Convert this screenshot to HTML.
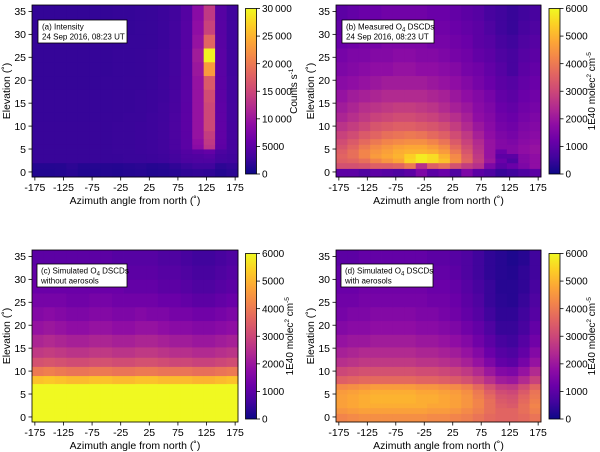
<!DOCTYPE html>
<html><head><meta charset="utf-8"><style>
html,body{margin:0;padding:0;background:#fff;}
svg{display:block;font-family:"Liberation Sans","DejaVu Sans",sans-serif;}
</style></head><body>
<svg id="fig" width="600" height="452" viewBox="0 0 600 452" xmlns="http://www.w3.org/2000/svg">
<defs>
<linearGradient id="plasma" x1="0" y1="1" x2="0" y2="0">
<stop offset="0" stop-color="#0d0887"/><stop offset="0.1" stop-color="#41049d"/><stop offset="0.2" stop-color="#6a00a8"/><stop offset="0.3" stop-color="#8f0da4"/><stop offset="0.4" stop-color="#b12a90"/><stop offset="0.5" stop-color="#cc4778"/><stop offset="0.6" stop-color="#e16462"/><stop offset="0.7" stop-color="#f2844b"/><stop offset="0.8" stop-color="#fca636"/><stop offset="0.9" stop-color="#fcce25"/><stop offset="1" stop-color="#f0f921"/>
</linearGradient>
</defs>
</svg>
<script>
// shared axes data
const azCenters = [-170,-150,-130,-110,-90,-70,-50,-30,-10,10,30,50,70,90,110,130,150,170];
const elCenters = [0,1.5,2.5,3.5,4.5,5.5,6.5,8,10,12,14,16.5,19.5,22.5,25.5,28.5,31.5,34.7];
const xTicks = [-175,-125,-75,-25,25,75,125,175];
const yTicks = [0,5,10,15,20,25,30,35];
const cbTicksA = [0,5000,10000,15000,20000,25000,30000];
const cbTicksO4 = [0,1000,2000,3000,4000,5000,6000];

// panel (a) intensity, thousands of counts/s; rows = elevations bottom->top
const valuesA = [
[1.2,1.2,1.3,1.6,1.2,1.2,1.3,1.2,1.4,1.5,1.2,1.3,1.6,2.0,2.2,2.0,1.4,1.8],
[1.3,1.3,1.4,1.8,1.3,1.4,1.4,1.3,1.5,1.7,1.4,1.5,2.0,2.6,3.0,3.0,1.8,2.2],
[2.5,2.5,2.5,2.5,2.5,2.5,2.5,2.5,2.6,2.6,2.7,2.8,3.2,3.8,4.0,4.0,3.2,3.0],
[2.5,2.5,2.5,2.5,2.5,2.5,2.5,2.5,2.6,2.6,2.7,2.9,3.3,4.0,4.2,4.5,3.4,3.0],
[2.5,2.5,2.5,2.5,2.5,2.5,2.5,2.6,2.6,2.7,2.8,3.0,3.5,4.3,5.0,5.5,3.8,3.2],
[2.5,2.5,2.5,2.5,2.5,2.5,2.5,2.6,2.6,2.7,2.8,3.1,3.7,4.8,8.5,13.0,5.0,3.4],
[2.5,2.5,2.5,2.5,2.5,2.5,2.5,2.6,2.6,2.7,2.8,3.1,3.7,4.8,9.0,13.5,5.2,3.4],
[2.5,2.5,2.5,2.5,2.5,2.5,2.5,2.6,2.6,2.7,2.8,3.1,3.8,4.9,9.5,14.0,5.3,3.4],
[2.5,2.5,2.5,2.5,2.5,2.5,2.5,2.6,2.6,2.7,2.8,3.1,3.8,5.0,9.5,15.0,5.3,3.4],
[2.4,2.4,2.4,2.4,2.4,2.4,2.5,2.5,2.6,2.6,2.8,3.0,3.7,5.0,9.5,15.0,5.2,3.3],
[2.4,2.4,2.4,2.4,2.4,2.4,2.4,2.5,2.5,2.6,2.7,3.0,3.6,4.9,9.5,15.0,5.1,3.3],
[2.4,2.4,2.4,2.4,2.4,2.4,2.4,2.5,2.5,2.6,2.7,2.9,3.5,4.8,9.5,15.5,5.0,3.2],
[2.3,2.3,2.3,2.3,2.3,2.3,2.4,2.4,2.5,2.5,2.6,2.9,3.4,4.7,9.5,17.0,4.9,3.2],
[2.3,2.3,2.3,2.3,2.3,2.3,2.3,2.4,2.4,2.5,2.6,2.8,3.3,4.6,10.0,23.0,4.8,3.1],
[2.3,2.3,2.3,2.3,2.3,2.3,2.3,2.4,2.4,2.5,2.6,2.8,3.3,4.6,10.5,29.5,4.8,3.1],
[2.3,2.3,2.3,2.3,2.3,2.3,2.3,2.3,2.4,2.4,2.5,2.7,3.2,4.5,9.5,18.0,4.7,3.0],
[2.2,2.2,2.2,2.2,2.2,2.2,2.3,2.3,2.3,2.4,2.5,2.7,3.2,4.5,9.0,14.5,4.6,3.0],
[2.2,2.2,2.2,2.2,2.2,2.2,2.2,2.3,2.3,2.4,2.5,2.7,3.1,4.4,8.5,13.5,4.5,3.0]
];
// panel (b) measured O4 DSCDs, thousands
const valuesB = [
[1.0,1.0,0.8,1.0,0.9,0.8,1.0,1.5,1.0,1.2,0.8,1.5,1.0,0.8,0.5,0.6,0.8,1.0],
[3.2,3.2,3.3,3.5,3.5,3.6,4.0,2.5,3.5,3.8,3.2,2.8,2.5,1.5,1.0,1.2,1.5,1.8],
[3.5,3.6,3.8,4.2,4.5,4.8,5.5,5.8,5.6,5.2,4.4,3.6,2.8,2.0,1.2,0.8,1.6,1.8],
[3.6,3.8,4.2,4.6,4.8,5.0,5.4,5.8,5.6,5.0,4.3,3.5,2.7,1.9,1.0,1.0,1.6,1.8],
[3.5,3.8,4.2,4.5,4.7,4.9,5.0,5.0,4.9,4.6,4.0,3.3,2.6,1.9,1.2,1.6,1.8,1.9],
[3.3,3.6,4.0,4.3,4.5,4.7,4.8,4.8,4.6,4.3,3.7,3.1,2.5,1.9,1.6,1.6,1.8,1.9],
[3.1,3.4,3.7,4.0,4.2,4.3,4.4,4.4,4.2,3.9,3.4,2.9,2.4,1.9,1.6,1.5,1.7,1.8],
[2.9,3.1,3.4,3.6,3.8,3.9,4.0,3.9,3.7,3.5,3.1,2.7,2.2,1.8,1.5,1.4,1.6,1.7],
[2.6,2.8,3.0,3.3,3.4,3.5,3.5,3.4,3.3,3.1,2.8,2.4,2.0,1.7,1.4,1.3,1.5,1.6],
[2.3,2.5,2.7,2.9,3.0,3.1,3.1,3.0,2.9,2.7,2.5,2.2,1.8,1.6,1.3,1.2,1.4,1.5],
[2.1,2.3,2.5,2.6,2.7,2.8,2.8,2.7,2.6,2.4,2.2,2.0,1.7,1.5,1.2,1.1,1.3,1.4],
[1.9,2.1,2.2,2.3,2.4,2.4,2.4,2.4,2.3,2.2,2.0,1.8,1.6,1.4,1.1,1.0,1.2,1.3],
[1.7,1.8,1.9,2.0,2.1,2.1,2.1,2.1,2.0,1.9,1.8,1.6,1.4,1.2,1.0,0.9,1.1,1.2],
[1.5,1.6,1.7,1.8,1.8,1.9,1.9,1.8,1.8,1.7,1.6,1.4,1.3,1.1,0.9,0.7,1.0,1.1],
[1.4,1.5,1.5,1.6,1.6,1.7,1.7,1.6,1.6,1.5,1.4,1.3,1.1,1.0,0.8,0.7,0.9,1.0],
[1.2,1.3,1.4,1.4,1.5,1.5,1.5,1.5,1.4,1.4,1.3,1.2,1.0,0.9,0.7,0.6,0.8,0.9],
[1.1,1.2,1.3,1.3,1.4,1.4,1.4,1.4,1.3,1.3,1.2,1.1,1.0,0.8,0.6,0.5,0.7,0.8],
[1.0,1.1,1.2,1.2,1.3,1.3,1.3,1.3,1.2,1.2,1.1,1.0,0.9,0.7,0.6,0.5,0.6,0.7]
];
// panel (c) simulated, no aerosols, thousands
const valuesC = [
[6.0,6.0,6.0,6.0,6.0,6.0,6.0,6.0,6.0,6.0,6.0,6.0,6.0,6.0,6.0,6.0,6.0,6.0],
[6.0,6.0,6.0,6.0,6.0,6.0,6.0,6.0,6.0,6.0,6.0,6.0,6.0,6.0,6.0,6.0,6.0,6.0],
[6.0,6.0,6.0,6.0,6.0,6.0,6.0,6.0,6.0,6.0,6.0,6.0,6.0,6.0,6.0,6.0,6.0,6.0],
[6.0,6.0,6.0,6.0,6.0,6.0,6.0,6.0,6.0,6.0,6.0,6.0,6.0,6.0,6.0,6.0,6.0,6.0],
[6.0,6.0,6.0,6.0,6.0,6.0,6.0,6.0,6.0,6.0,6.0,6.0,6.0,6.0,6.0,6.0,6.0,6.0],
[6.0,6.0,6.0,6.0,6.0,6.0,6.0,6.0,6.0,6.0,6.0,6.0,6.0,6.0,6.0,6.0,6.0,6.0],
[6.0,6.0,6.0,6.0,6.0,6.0,6.0,6.0,6.0,6.0,6.0,6.0,6.0,6.0,6.0,6.0,6.0,6.0],
[5.2,5.3,5.2,5.1,5.1,5.2,5.2,5.1,5.1,5.2,5.2,5.1,5.1,5.1,5.0,5.0,5.1,5.2],
[4.0,4.1,4.0,3.9,3.9,4.0,4.0,3.9,3.9,4.0,4.0,3.9,3.9,3.9,3.8,3.8,3.9,4.0],
[3.2,3.3,3.2,3.1,3.1,3.2,3.2,3.1,3.1,3.2,3.2,3.1,3.0,3.0,2.9,2.9,3.0,3.1],
[2.7,2.8,2.7,2.6,2.6,2.7,2.7,2.6,2.6,2.7,2.7,2.6,2.5,2.5,2.4,2.4,2.5,2.6],
[2.3,2.4,2.3,2.2,2.2,2.3,2.3,2.2,2.2,2.3,2.3,2.2,2.1,2.1,2.0,2.0,2.1,2.2],
[1.9,2.0,1.9,1.8,1.8,1.9,1.9,1.8,1.8,1.9,1.9,1.8,1.7,1.7,1.6,1.6,1.7,1.8],
[1.6,1.7,1.6,1.5,1.5,1.6,1.6,1.5,1.5,1.6,1.5,1.5,1.4,1.4,1.3,1.3,1.4,1.5],
[1.4,1.4,1.4,1.3,1.3,1.4,1.4,1.3,1.3,1.3,1.3,1.2,1.2,1.1,1.0,1.0,1.1,1.2],
[1.2,1.2,1.2,1.2,1.2,1.2,1.2,1.2,1.1,1.1,1.1,1.0,1.0,0.9,0.8,0.8,0.9,1.0],
[1.1,1.1,1.1,1.1,1.1,1.1,1.1,1.0,1.0,1.0,1.0,0.9,0.9,0.8,0.7,0.7,0.8,0.9],
[1.0,1.0,1.0,1.0,1.0,1.0,1.0,0.9,0.9,0.9,0.9,0.8,0.8,0.7,0.6,0.6,0.7,0.8]
];
// panel (d) simulated, with aerosols, thousands
const valuesD = [
[4.2,4.3,4.4,4.4,4.4,4.4,4.4,4.4,4.3,4.3,4.2,4.1,3.9,3.7,3.6,3.6,3.7,3.9],
[4.5,4.6,4.7,4.7,4.7,4.7,4.7,4.7,4.6,4.6,4.5,4.3,4.1,3.8,3.6,3.6,3.8,4.1],
[4.7,4.8,4.9,4.9,4.9,4.9,4.9,4.9,4.8,4.8,4.7,4.5,4.2,3.8,3.5,3.4,3.8,4.2],
[4.7,4.8,4.9,5.0,5.0,5.0,5.0,4.9,4.9,4.8,4.7,4.5,4.2,3.8,3.4,3.3,3.7,4.1],
[4.7,4.8,4.9,5.0,5.0,5.0,5.0,4.9,4.9,4.8,4.7,4.5,4.1,3.7,3.3,3.2,3.6,4.0],
[4.6,4.7,4.8,4.9,4.9,4.9,4.9,4.8,4.8,4.7,4.6,4.4,4.0,3.5,3.1,3.0,3.4,3.9],
[4.3,4.4,4.5,4.6,4.6,4.6,4.6,4.5,4.5,4.4,4.3,4.1,3.7,3.2,2.8,2.7,3.1,3.6],
[3.5,3.6,3.7,3.7,3.7,3.7,3.7,3.6,3.6,3.5,3.4,3.2,2.9,2.5,2.1,2.0,2.4,2.9],
[3.0,3.1,3.2,3.2,3.2,3.2,3.2,3.1,3.1,3.0,2.9,2.7,2.4,2.0,1.6,1.5,1.9,2.4],
[2.5,2.6,2.7,2.7,2.7,2.7,2.7,2.6,2.6,2.5,2.4,2.2,1.9,1.5,1.1,1.0,1.4,1.9],
[2.2,2.3,2.4,2.4,2.4,2.4,2.4,2.3,2.3,2.2,2.1,1.9,1.6,1.2,0.9,0.8,1.1,1.6],
[1.9,2.0,2.0,2.1,2.1,2.1,2.1,2.0,2.0,1.9,1.8,1.6,1.3,1.0,0.7,0.6,0.9,1.3],
[1.6,1.7,1.7,1.8,1.8,1.8,1.8,1.7,1.7,1.6,1.5,1.3,1.1,0.8,0.5,0.5,0.7,1.1],
[1.4,1.5,1.5,1.6,1.6,1.6,1.6,1.5,1.5,1.4,1.3,1.1,0.9,0.6,0.4,0.4,0.6,0.9],
[1.3,1.3,1.4,1.4,1.4,1.4,1.4,1.4,1.3,1.3,1.2,1.0,0.8,0.5,0.35,0.3,0.5,0.8],
[1.2,1.2,1.3,1.3,1.3,1.3,1.3,1.3,1.2,1.2,1.1,0.9,0.7,0.5,0.3,0.3,0.4,0.7],
[1.1,1.1,1.2,1.2,1.2,1.2,1.2,1.2,1.1,1.1,1.0,0.8,0.6,0.4,0.3,0.25,0.4,0.6],
[1.0,1.0,1.1,1.1,1.1,1.1,1.1,1.1,1.0,1.0,0.9,0.8,0.6,0.4,0.3,0.2,0.3,0.6]
];

const NS='http://www.w3.org/2000/svg';
const svg=document.getElementById('fig');
const plasma=[[13,8,135],[65,4,157],[106,0,168],[143,13,164],[177,42,144],[204,71,120],[225,100,98],[242,132,75],[252,166,54],[252,206,37],[240,249,33]];
function cmap(t){t=Math.max(0,Math.min(1,t));const f=t*10,i=Math.min(9,Math.floor(f)),r=f-i;const a=plasma[i],b=plasma[i+1];
return 'rgb('+[0,1,2].map(k=>Math.round(a[k]+(b[k]-a[k])*r)).join(',')+')';}
function el(tag,attrs,parent){const e=document.createElementNS(NS,tag);for(const k in attrs)e.setAttribute(k,attrs[k]);(parent||svg).appendChild(e);return e;}
function txt(s,attrs,parent){const e=el('text',attrs,parent);e.textContent=s;return e;}
function fmt(v,thin){if(thin&&v>=10000){const s=String(v);return s.slice(0,s.length-3)+'\u2009'+s.slice(-3);}return String(v);}

function panel(p){
  const g=el('g',{});
  
  
  const X0=-180,X1=180,Y0=-1.1,Y1=36.4;
  const sx=v=>p.x0+(v-X0)/(X1-X0)*(p.x1-p.x0);
  const sy=v=>p.y1-(v-Y0)/(Y1-Y0)*(p.y1-p.y0);
  const azE=[X0];for(let i=1;i<azCenters.length;i++)azE.push((azCenters[i-1]+azCenters[i])/2);azE.push(X1);
  const elE=[Y0];for(let i=1;i<elCenters.length;i++)elE.push((elCenters[i-1]+elCenters[i])/2);elE.push(Y1);
  const cells=el('g',{},g);
  
  
  for(let r=0;r<elCenters.length;r++)for(let c=0;c<azCenters.length;c++){
    const xa=sx(azE[c]),xb=sx(azE[c+1]),ya=sy(elE[r+1]),yb=sy(elE[r]);
    const rc=el('rect',{x:xa.toFixed(2),y:ya.toFixed(2),width:(xb-xa+0.4).toFixed(2),height:(yb-ya+0.4).toFixed(2),fill:cmap(p.vals[r][c]/p.vmax)},cells);
    
    
  }
  const fr=el('rect',{x:p.x0,y:p.y0,width:p.x1-p.x0,height:p.y1-p.y0,fill:'none',stroke:'#000','stroke-width':0.8},g);
  
  
  xTicks.forEach(v=>{const x=sx(v);el('line',{x1:x,x2:x,y1:p.y1,y2:p.y1+3.5,stroke:'#000','stroke-width':0.8},g);
    const t=txt(String(v),{x:x,y:p.y1+14,'font-size':10.5,'text-anchor':'middle',fill:'#000'},g);
    });
  yTicks.forEach(v=>{const y=sy(v);el('line',{x1:p.x0-3.5,x2:p.x0,y1:y,y2:y,stroke:'#000','stroke-width':0.8},g);
    const t=txt(String(v),{x:p.x0-6,y:y+3.8,'font-size':10.5,'text-anchor':'end',fill:'#000'},g);
    });
  const xl=txt('Azimuth angle from north (\u02da)',{x:(p.x0+p.x1)/2,y:p.y1+27,'font-size':10.5,'text-anchor':'middle',fill:'#000'},g);
  
  const yx=p.x0-22,yy=(p.y0+p.y1)/2;
  const yl=txt('Elevation (\u02da)',{x:yx,y:yy,'font-size':10.5,'text-anchor':'middle',fill:'#000',transform:'rotate(-90 '+yx+' '+yy+')'},g);
  
  // annotation
  const ab=el('g',{},g);
  
  
  el('rect',{x:p.ax,y:p.ay,width:p.aw,height:23,fill:'#fff',stroke:'#000','stroke-width':0.8},ab);
  const t1=el('text',{x:p.ax+4,y:p.ay+9.5,'font-size':8,fill:'#000'},ab);t1.innerHTML=p.l1;
  txt(p.l2,{x:p.ax+4,y:p.ay+19.5,'font-size':8,fill:'#000'},ab);
  // colorbar
  const cb=el('g',{},g);
  
  
  el('rect',{x:p.cx,y:p.cy0,width:11,height:p.cy1-p.cy0,fill:'url(#plasma)',stroke:'#000','stroke-width':0.8},cb);
  p.cbt.forEach(v=>{const y=p.cy1-v/(p.vmax*1000)*(p.cy1-p.cy0);
    el('line',{x1:p.cx+11,x2:p.cx+14.5,y1:y,y2:y,stroke:'#000','stroke-width':0.8},cb);
    const t=txt(fmt(v,p.thin),{x:p.cx+16.5,y:y+3.6,'font-size':10,fill:'#000'},cb);
    });
  const lx=p.lx,ly=(p.cy0+p.cy1)/2;
  const cl=el('text',{x:lx,y:ly,'font-size':10,'text-anchor':'middle',fill:'#000',transform:'rotate(-90 '+lx+' '+ly+')'},cb);
  cl.innerHTML=p.clabel;
  
}
const o4lab='1E40 molec<tspan dy="-4" font-size="6.5">2</tspan><tspan dy="4"> cm</tspan><tspan dy="-4" font-size="6.5">-5</tspan>';
const sub4='<tspan dy="2" font-size="6">4</tspan><tspan dy="-2"> DSCDs</tspan>';
panel({name:'panel-a-intensity',vals:valuesA,vmax:30,x0:32,x1:238,y0:5,y1:177,cx:245.5,cy0:8.5,cy1:174,cbt:cbTicksA,thin:true,lx:297,
  clabel:'Counts s<tspan dy="-4" font-size="6.5">-1</tspan>',ax:38,ay:20,aw:89,l1:'(a) Intensity',l2:'24 Sep 2016, 08:23 UT'});
panel({name:'panel-b-measured',vals:valuesB,vmax:6,x0:336,x1:541,y0:5,y1:177,cx:549,cy0:8.5,cy1:174,cbt:cbTicksO4,lx:595,
  clabel:o4lab,ax:342,ay:20,aw:92,l1:'(b) Measured O'+sub4,l2:'24 Sep 2016, 08:23 UT'});
panel({name:'panel-c-simulated-no-aerosol',vals:valuesC,vmax:6,x0:32,x1:238,y0:250,y1:422,cx:245.5,cy0:253.5,cy1:419,cbt:cbTicksO4,lx:293,
  clabel:o4lab,ax:37,ay:264,aw:90,l1:'(c) Simulated O'+sub4,l2:'without aerosols'});
panel({name:'panel-d-simulated-aerosol',vals:valuesD,vmax:6,x0:336,x1:541,y0:250,y1:422,cx:549,cy0:253.5,cy1:419,cbt:cbTicksO4,lx:595,
  clabel:o4lab,ax:341,ay:264,aw:92,l1:'(d) Simulated O'+sub4,l2:'with aerosols'});
</script>
</body></html>
